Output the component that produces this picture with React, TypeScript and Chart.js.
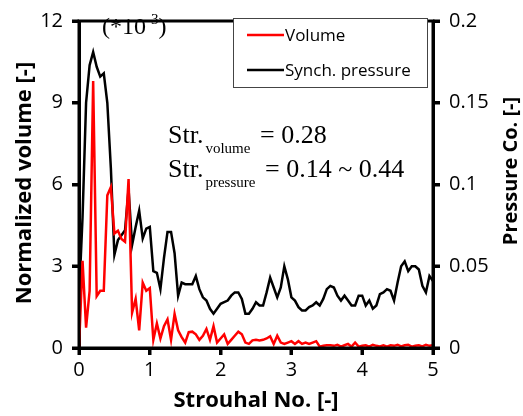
import React, { useEffect, useRef } from "react";
import { Chart, registerables } from "chart.js";

Chart.register(...registerables);

const strouhal = [
  0, 0.05, 0.1, 0.15, 0.2, 0.25, 0.3, 0.35, 0.4, 0.45,
  0.5, 0.55, 0.6, 0.65, 0.7, 0.75, 0.8, 0.85, 0.9, 0.95,
  1, 1.05, 1.1, 1.15, 1.2, 1.25, 1.3, 1.35, 1.4, 1.45,
  1.5, 1.55, 1.6, 1.65, 1.7, 1.75, 1.8, 1.85, 1.9, 1.95,
  2, 2.05, 2.1, 2.15, 2.2, 2.25, 2.3, 2.35, 2.4, 2.45,
  2.5, 2.55, 2.6, 2.65, 2.7, 2.75, 2.8, 2.85, 2.9, 2.95,
  3, 3.05, 3.1, 3.15, 3.2, 3.25, 3.3, 3.35, 3.4, 3.45,
  3.5, 3.55, 3.6, 3.65, 3.7, 3.75, 3.8, 3.85, 3.9, 3.95,
  4, 4.05, 4.1, 4.15, 4.2, 4.25, 4.3, 4.35, 4.4, 4.45,
  4.5, 4.55, 4.6, 4.65, 4.7, 4.75, 4.8, 4.85, 4.9, 4.95,
  5,
];

// Normalized volume (*10^-3), left axis
const volume = [
  0, 3.2, 0.75, 2.1, 9.8, 1.9, 2.1, 2.1, 5.6, 5.9,
  4.2, 4.3, 4.0, 3.9, 6.2, 1.3, 1.8, 0.65, 2.4, 2.1,
  2.2, 0.3, 0.9, 0.35, 0.8, 1.05, 0.3, 1.25, 0.65, 0.4,
  0.2, 0.58, 0.6, 0.5, 0.3, 0.45, 0.7, 0.3, 0.8, 0.2,
  0.35, 0.5, 0.15, 0.3, 0.45, 0.6, 0.5, 0.2, 0.15, 0.28,
  0.3, 0.28, 0.3, 0.35, 0.43, 0.15, 0.45, 0.2, 0.15, 0.2,
  0.25, 0.15, 0.25, 0.15, 0.2, 0.15, 0.2, 0.25, 0.05, 0.08,
  0.1, 0.1, 0.08, 0.12, 0.05, 0.1, 0.15, 0.05, 0.2, 0.05,
  0.08, 0.1, 0.05, 0.12, 0.08, 0.06, 0.1, 0.05, 0.1, 0.08,
  0.12, 0.06, 0.1, 0.12, 0.05, 0.08, 0.1, 0.06, 0.12, 0.08,
  0.1,
];

// Synch. pressure coefficient, right axis
const pressure = [
  0.03, 0.08, 0.15, 0.173, 0.181, 0.172, 0.166, 0.168, 0.15, 0.11,
  0.057, 0.066, 0.069, 0.072, 0.097, 0.063, 0.074, 0.084, 0.067, 0.073,
  0.074, 0.047, 0.046, 0.036, 0.055, 0.071, 0.071, 0.058, 0.032, 0.04,
  0.039, 0.039, 0.039, 0.044, 0.036, 0.031, 0.029, 0.024, 0.021, 0.024,
  0.027, 0.028, 0.029, 0.032, 0.034, 0.034, 0.03, 0.021, 0.021, 0.024,
  0.028, 0.026, 0.026, 0.034, 0.043, 0.037, 0.031, 0.037, 0.05, 0.042,
  0.031, 0.029, 0.025, 0.023, 0.023, 0.025, 0.026, 0.028, 0.026, 0.03,
  0.036, 0.038, 0.037, 0.032, 0.029, 0.032, 0.029, 0.026, 0.026, 0.032,
  0.032, 0.026, 0.029, 0.024, 0.026, 0.033, 0.034, 0.036, 0.035, 0.029,
  0.04, 0.05, 0.053, 0.047, 0.05, 0.05, 0.048, 0.038, 0.034, 0.044,
  0.041,
];

const xTicks = [0, 1, 2, 3, 4, 5];
const volumeTicks = [0, 3, 6, 9, 12];
const pressureTicks = [0, 0.05, 0.1, 0.15, 0.2];

const seriesNames = ["Volume", "Synch. pressure"];
const seriesColors = ["#ff0000", "#000000"];

const SANS = "'Open Sans', 'Noto Sans', sans-serif";
const SERIF = "'Liberation Serif', 'DejaVu Serif', serif";

const overlayPlugin = {
  id: "overlay",
  afterDraw(chart: any) {
    const ctx = chart.ctx as CanvasRenderingContext2D;
    const a = chart.chartArea;
    const sx = chart.scales.x;
    const sy = chart.scales.y;
    const sy1 = chart.scales.y1;
    ctx.save();
    // full frame
    ctx.strokeStyle = "#000";
    ctx.lineWidth = 3;
    ctx.strokeRect(a.left, a.top, a.right - a.left, a.bottom - a.top);

    // tick marks (outward)
    const TL = 7;
    ctx.beginPath();
    for (const v of xTicks) {
      const px = Math.round(sx.getPixelForValue(v));
      ctx.moveTo(px, a.bottom);
      ctx.lineTo(px, a.bottom + TL);
    }
    for (const v of volumeTicks) {
      const py = Math.round(sy.getPixelForValue(v));
      ctx.moveTo(a.left, py);
      ctx.lineTo(a.left - TL, py);
    }
    for (const v of pressureTicks) {
      const py = Math.round(sy1.getPixelForValue(v));
      ctx.moveTo(a.right, py);
      ctx.lineTo(a.right + TL, py);
    }
    ctx.stroke();

    // Legend
    const lx = 233, ly = 18, lw = 194, lh = 69;
    ctx.fillStyle = "#fff";
    ctx.fillRect(lx, ly, lw, lh);
    ctx.strokeStyle = "#444";
    ctx.lineWidth = 1;
    ctx.strokeRect(lx + 0.5, ly + 0.5, lw, lh);
    const rows = [35, 70];
    ctx.font = `17px ${SANS}`;
    ctx.textBaseline = "middle";
    ctx.textAlign = "left";
    for (let i = 0; i < seriesNames.length; i++) {
      ctx.strokeStyle = seriesColors[i];
      ctx.lineWidth = 2.5;
      ctx.beginPath();
      ctx.moveTo(247, rows[i]);
      ctx.lineTo(284, rows[i]);
      ctx.stroke();
      ctx.fillStyle = "#000";
      ctx.fillText(seriesNames[i], 285, rows[i] + 1);
    }

    // (*10-3)
    ctx.fillStyle = "#000";
    ctx.textBaseline = "alphabetic";
    ctx.font = `24px ${SERIF}`;
    let x = 102;
    ctx.fillText("(*10", x, 34);
    x += ctx.measureText("(*10").width;
    ctx.font = `15px ${SERIF}`;
    ctx.fillText("-3", x, 24);
    x += ctx.measureText("-3").width;
    ctx.font = `24px ${SERIF}`;
    ctx.fillText(")", x, 34);

    // Strouhal annotations
    const drawStr = (sub: string, rest: string, base: number, restX: number) => {
      ctx.font = `26px ${SERIF}`;
      ctx.fillText("Str.", 168, base);
      const w = ctx.measureText("Str.").width;
      ctx.font = `15px ${SERIF}`;
      ctx.fillText(sub, 168 + w + 2, base + 10);
      ctx.font = `26px ${SERIF}`;
      ctx.fillText(rest, restX, base);
    };
    drawStr("volume", "= 0.28", 143, 260);
    drawStr("pressure", "= 0.14 ~ 0.44", 177, 265);

    // Axis titles
    ctx.font = `bold 22px ${SANS}`;
    ctx.textAlign = "center";
    ctx.textBaseline = "middle";
    ctx.fillText("Strouhal No. [-]", (a.left + a.right) / 2, 401);

    ctx.save();
    ctx.translate(25, 183);
    ctx.rotate(-Math.PI / 2);
    ctx.fillText("Normalized volume [-]", 0, 0);
    ctx.restore();

    ctx.save();
    ctx.font = `bold 20px ${SANS}`;
    ctx.translate(511, 171);
    ctx.rotate(-Math.PI / 2);
    ctx.fillText("Pressure Co. [-]", 0, 0);
    ctx.restore();

    ctx.restore();
  },
};

export default function App() {
  const canvasRef = useRef<HTMLCanvasElement | null>(null);

  useEffect(() => {
    document.body.style.margin = "0";
    const canvas = canvasRef.current;
    if (!canvas) return;

    const tickFont = { family: SANS, size: 20 };
    const gridOpts = {
      drawOnChartArea: false,
      drawTicks: true,
      tickLength: 7,
      tickWidth: 3,
      tickColor: "#000",
      color: "#000",
      lineWidth: 3,
    };
    const borderOpts = { display: true, color: "#000", width: 3 };

    const chart = new Chart(canvas, {
      type: "line",
      data: {
        datasets: [
          {
            label: seriesNames[0],
            data: strouhal.map((s, i) => ({ x: s, y: volume[i] })),
            borderColor: seriesColors[0],
            borderWidth: 2.5,
            pointRadius: 0,
            tension: 0,
            yAxisID: "y",
          },
          {
            label: seriesNames[1],
            data: strouhal.map((s, i) => ({ x: s, y: pressure[i] })),
            borderColor: seriesColors[1],
            borderWidth: 2.5,
            pointRadius: 0,
            tension: 0,
            yAxisID: "y1",
          },
        ],
      },
      options: {
        responsive: false,
        animation: false,
        devicePixelRatio: 1,
        layout: { padding: { top: 13, left: 0, right: 0, bottom: 0 } },
        plugins: {
          legend: { display: false },
          tooltip: { enabled: false },
          title: { display: false },
        },
        scales: {
          x: {
            type: "linear",
            min: 0,
            max: 5,
            afterBuildTicks: (scale: any) => {
              scale.ticks = xTicks.map((v) => ({ value: v }));
            },
            afterFit: (scale: any) => {
              scale.height = 68;
            },
            ticks: { font: tickFont, color: "#000", padding: 3, maxRotation: 0 },
            grid: gridOpts,
            border: borderOpts,
          },
          y: {
            type: "linear",
            position: "left",
            min: 0,
            max: 12,
            afterBuildTicks: (scale: any) => {
              scale.ticks = volumeTicks.map((v) => ({ value: v }));
            },
            afterFit: (scale: any) => {
              scale.width = 79;
            },
            ticks: { font: tickFont, color: "#000", padding: 9 },
            grid: gridOpts,
            border: borderOpts,
          },
          y1: {
            type: "linear",
            position: "right",
            min: 0,
            max: 0.2,
            afterBuildTicks: (scale: any) => {
              scale.ticks = pressureTicks.map((v) => ({ value: v }));
            },
            afterFit: (scale: any) => {
              scale.width = 90;
            },
            ticks: {
              font: tickFont,
              color: "#000",
              padding: 9,
              callback: (v: any) => String(Number(Number(v).toFixed(2))),
            },
            grid: gridOpts,
            border: borderOpts,
          },
        },
      },
      plugins: [overlayPlugin],
    } as any);

    return () => chart.destroy();
  }, []);

  return (
    <div style={{ position: "absolute", left: 0, top: 0, width: 523, height: 416, background: "#fff" }}>
      <canvas ref={canvasRef} width={523} height={416} />
    </div>
  );
}
